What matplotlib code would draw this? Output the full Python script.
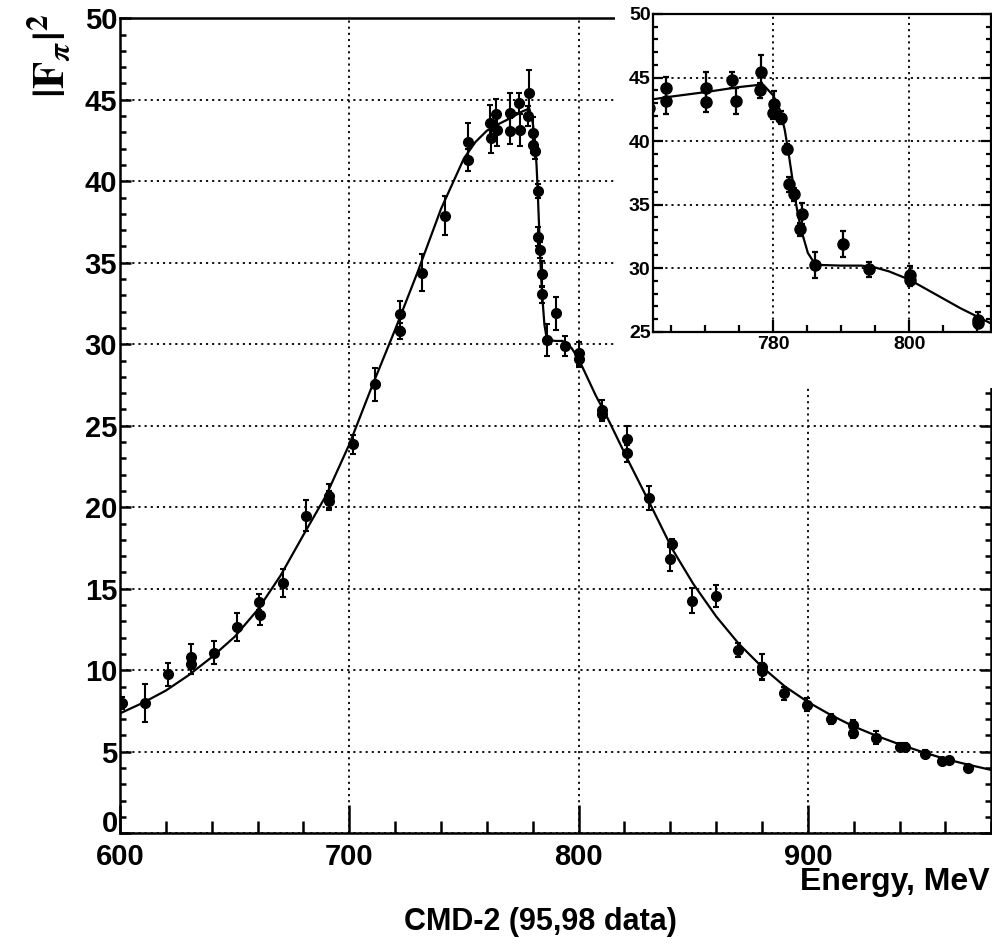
import matplotlib
matplotlib.use("Agg")
import matplotlib.pyplot as plt
from matplotlib.ticker import MultipleLocator, FixedLocator, FuncFormatter

plt.rcParams['font.family'] = ['Liberation Sans', 'DejaVu Sans']
plt.rcParams['font.weight'] = 'bold'
plt.rcParams['mathtext.fontset'] = 'stix'

# Measured pion form factor |F_pi|^2 (energy in MeV, value, error)
energy = [601, 611, 621, 631, 631, 641, 651, 660.6, 661, 671,
          681, 691, 691, 701.7, 711.4, 722, 722, 731.8, 741.7, 751.9,
          751.9, 761.4, 761.8,
          764.2, 764.3, 770.2, 770.1, 774.0, 774.5, 778.2, 778.0, 780.1, 780.0,
          781.1, 782.1, 782.3, 783.0, 784.2, 784.0, 786.1, 790.2, 794.1,
          800.1, 800.1, 810.1, 810.1,
          821.1, 821.1, 830.7, 840.8, 839.8, 849.5, 859.8, 869.5, 879.9, 879.9,
          889.6, 899.8, 909.9, 919.7, 919.7, 929.9, 940.0, 942.2, 951.2, 958.5,
          961.4, 969.8]
ff2 = [8.0, 8.0, 9.75, 10.83, 10.38, 11.07, 12.63, 14.2, 13.39, 15.37,
       19.48, 20.7, 20.4, 23.86, 27.54, 31.85, 30.83, 34.39, 37.88, 42.42,
       41.3, 43.55, 42.63,
       44.15, 43.15, 44.2, 43.1, 44.8, 43.15, 45.4, 44.0, 42.95, 42.2,
       41.85, 39.4, 36.6, 35.8, 34.3, 33.05, 30.25, 31.9, 29.9,
       29.45, 29.1, 25.95, 25.7,
       24.16, 23.3, 20.58, 17.72, 16.82, 14.27, 14.55, 11.24, 10.18, 9.95,
       8.58, 7.87, 6.99, 6.64, 6.17, 5.86, 5.31, 5.31, 4.84, 4.43,
       4.49, 3.98]
ff2_err = [0.35, 1.15, 0.7, 0.75, 0.6, 0.7, 0.85, 0.5, 0.6, 0.85,
           0.95, 0.75, 0.6, 0.6, 1.0, 0.8, 0.5, 1.15, 1.2, 1.15,
           0.7, 1.1, 0.9,
           0.9, 1.0, 1.2, 0.8, 0.6, 1.0, 1.4, 0.6, 1.0, 0.5,
           0.5, 0.4, 0.6, 0.5, 0.8, 0.5, 1.0, 1.0, 0.6,
           0.7, 0.5, 0.6, 0.4,
           0.8, 0.5, 0.75, 0.3, 0.75, 0.75, 0.7, 0.45, 0.8, 0.5,
           0.4, 0.4, 0.3, 0.3, 0.3, 0.4, 0.2, 0.2, 0.25, 0.2,
           0.2, 0.2]

# Fit curve sampled along the energy axis
fit_energy = [600, 610, 620, 630, 640, 650, 660, 670, 680, 690, 700, 710, 720,
              730, 740, 750, 755, 760, 765, 770, 775, 778.5, 780, 781, 781.7,
              782.2, 782.7, 783.2, 783.7, 784.4, 785.1, 786, 787, 790, 793, 795,
              797, 800, 803.5, 807.5, 812, 821.5, 831, 841, 850, 860, 870, 880,
              890, 900, 910, 920, 930, 940, 950, 960, 970, 980]
fit_ff2 = [7.35, 8.0, 8.75, 9.7, 10.8, 12.05, 13.7, 15.8, 18.3, 20.75, 23.85,
           27.45, 30.9, 34.5, 38.3, 41.4, 42.4, 43.1, 43.5, 43.85, 44.25, 44.46,
           43.6, 42.45, 40.9, 39.3, 37.5, 35.6, 34.05, 32.5, 31.2, 30.45, 30.25,
           30.2, 30.2, 30.05, 29.75, 29.1, 28.05, 26.85, 25.65, 22.9, 20.25,
           17.4, 15.3, 13.3, 11.6, 10.2, 9.0, 8.05, 7.25, 6.55, 5.97, 5.45,
           4.98, 4.55, 4.2, 3.88]

main_xticks = [600, 700, 800, 900]
main_yticks = [0, 5, 10, 15, 20, 25, 30, 35, 40, 45, 50]
inset_xticks = [780, 800]
inset_yticks = [25, 30, 35, 40, 45, 50]

W, H = 992, 951
fig = plt.figure(figsize=(W / 100, H / 100), dpi=100)
fig.patch.set_facecolor('white')

grid_style = dict(color='black', linestyle=(0, (1.2, 2.2)), linewidth=1.3)


def style_axes(ax, xmajor, ymajor, xminor, yminor, xlen, ylen, lsize, spw, xpad):
    for s in ax.spines.values():
        s.set_linewidth(spw)
        s.set_color('black')
    ax.xaxis.set_major_locator(FixedLocator(xmajor))
    ax.yaxis.set_major_locator(FixedLocator(ymajor))
    ax.xaxis.set_minor_locator(MultipleLocator(xminor))
    ax.yaxis.set_minor_locator(MultipleLocator(yminor))
    ax.tick_params(axis='x', which='both', direction='in', bottom=True, top=False,
                   width=spw, labelsize=lsize, pad=xpad)
    ax.tick_params(axis='y', which='both', direction='in', left=True, right=True,
                   width=spw, labelsize=lsize, pad=2)
    ax.tick_params(axis='x', which='major', length=xlen[0])
    ax.tick_params(axis='x', which='minor', length=xlen[1])
    ax.tick_params(axis='y', which='major', length=ylen[0])
    ax.tick_params(axis='y', which='minor', length=ylen[1])
    ax.grid(True, which='major', **grid_style)
    ax.set_axisbelow(True)


# Main panel
x0, x1 = 120, 991.3
y0, y1 = 833.2, 18.2
ax = fig.add_axes([x0 / W, 1 - y0 / H, (x1 - x0) / W, (y0 - y1) / H])
ax.set_xlim(600, 980)
ax.set_ylim(0, 50)
style_axes(ax, main_xticks, main_yticks, 20, 1, (20, 9), (8, 4), 21, 1.8, 7)
# the zero label sits a little above its tick, clear of the "600" label
ax.yaxis.set_major_formatter(FuncFormatter(lambda v, p: '' if v == 0 else f'{v:g}'))
ax.annotate('0', xy=(0, 0), xycoords=('axes fraction', 'data'),
            xytext=(-1.5, 6.5), textcoords='offset points', ha='right',
            va='center', fontsize=21, fontweight='bold')
ax.plot(fit_energy, fit_ff2, color='black', linewidth=1.6, zorder=3)
ax.errorbar(energy, ff2, yerr=ff2_err, fmt='o', color='black', markersize=7,
            elinewidth=1.5, capsize=2.5, capthick=1.5, zorder=4)

fig.text(x1 / W - 0.002, 1 - 882 / H, 'Energy, MeV', ha='right', va='center',
         fontsize=23, fontweight='bold')
fig.text(540 / W, 1 - 922 / H, 'CMD-2 (95,98 data)', ha='center', va='center',
         fontsize=22, fontweight='bold')
fig.text(50 / W, 1 - 14 / H, r'$|\mathbf{F}_{\pi}|^{2}$', rotation=90,
         ha='center', va='top', fontsize=32)

# Blank pad holding the zoomed panel
pad = fig.add_axes([615 / W, 1 - 388 / H, (W - 615) / W, 388 / H])
pad.set_facecolor('white')
pad.set_xticks([])
pad.set_yticks([])
for s in pad.spines.values():
    s.set_visible(False)
pad.set_zorder(5)

# Zoomed panel around the rho-omega interference region
ix0, ix1 = 653.3, 991.0
iy0, iy1 = 331.7, 14.0
axi = fig.add_axes([ix0 / W, 1 - iy0 / H, (ix1 - ix0) / W, (iy0 - iy1) / H])
axi.set_zorder(6)
axi.set_xlim(762.4, 812)
axi.set_ylim(25, 50)
style_axes(axi, inset_xticks, inset_yticks, 5, 1, (9, 5), (7, 3.5), 14, 1.6, 3)
axi.plot(fit_energy, fit_ff2, color='black', linewidth=1.6, zorder=3)
axi.errorbar(energy, ff2, yerr=ff2_err, fmt='o', color='black', markersize=8,
             elinewidth=1.6, capsize=2.5, capthick=1.6, zorder=4)

fig.savefig('out.png', dpi=100, facecolor='white')
